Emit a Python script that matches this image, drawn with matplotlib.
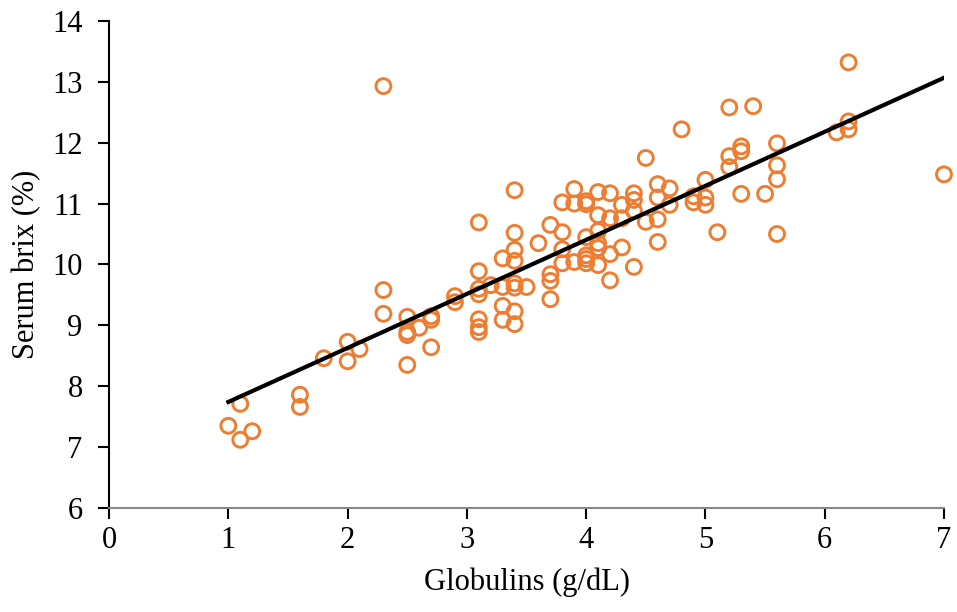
import numpy as np
import matplotlib.pyplot as plt

# globulins (g/dL) and serum brix (%)
globulins = [1.0, 1.1, 1.1, 1.2, 1.6, 1.6, 1.8, 2.0, 2.0, 2.1,
             2.3, 2.3, 2.3, 2.5, 2.5, 2.5, 2.5, 2.6, 2.7, 2.7,
             2.7, 2.9, 2.9, 3.1, 3.1, 3.1, 3.1, 3.1, 3.1, 3.1,
             3.2, 3.3, 3.3, 3.3, 3.3, 3.4, 3.4, 3.4, 3.4, 3.4,
             3.4, 3.4, 3.4, 3.5, 3.6, 3.7, 3.7, 3.7, 3.7, 3.8,
             3.8, 3.8, 3.8, 3.9, 3.9, 3.9, 4.0, 4.0, 4.0, 4.0,
             4.0, 4.0, 4.1, 4.1, 4.1, 4.1, 4.1, 4.1, 4.2, 4.2,
             4.2, 4.2, 4.3, 4.3, 4.3, 4.4, 4.4, 4.4, 4.4, 4.5,
             4.5, 4.6, 4.6, 4.6, 4.6, 4.7, 4.7, 4.8, 4.9, 4.9,
             5.0, 5.0, 5.0, 5.1, 5.2, 5.2, 5.2, 5.3, 5.3, 5.3,
             5.4, 5.5, 5.6, 5.6, 5.6, 5.6, 6.1, 6.2, 6.2, 6.2,
             7.0]
brix = [7.35, 7.71, 7.12, 7.26, 7.86, 7.66, 8.46, 8.73, 8.41, 8.61,
        12.93, 9.58, 9.19, 9.14, 8.89, 8.84, 8.35, 8.96, 9.15, 9.09,
        8.64, 9.48, 9.38, 10.69, 9.89, 9.60, 9.51, 9.10, 8.97, 8.89,
        9.66, 10.10, 9.63, 9.32, 9.09, 11.22, 10.52, 10.24, 10.06, 9.69,
        9.62, 9.23, 9.02, 9.63, 10.35, 10.65, 9.84, 9.73, 9.43, 11.02,
        10.53, 10.25, 10.02, 11.24, 11.00, 10.04, 11.04, 10.99, 10.45, 10.15,
        10.09, 10.02, 11.19, 10.81, 10.55, 10.35, 10.27, 9.99, 11.17, 10.76,
        10.17, 9.74, 10.98, 10.76, 10.28, 11.17, 11.06, 10.88, 9.96, 11.75,
        10.70, 11.32, 11.10, 10.74, 10.37, 11.25, 10.98, 12.22, 11.12, 11.02,
        11.39, 11.10, 10.98, 10.53, 12.58, 11.78, 11.60, 11.94, 11.86, 11.16,
        12.60, 11.16, 11.99, 11.63, 11.40, 10.50, 12.17, 13.32, 12.35, 12.22,
        11.48]

plt.rcParams['font.family'] = ['Liberation Serif', 'DejaVu Serif']

fig, ax = plt.subplots(figsize=(9.57, 6.12), dpi=100)
fig.subplots_adjust(left=0.114, right=0.9864, bottom=0.17, top=0.9657)

ax.scatter(globulins, brix, s=115, facecolors='none', edgecolors='#ED7D31',
           linewidths=2.1, zorder=2, clip_on=False)

# linear trendline
slope, intercept = np.polyfit(globulins, brix, 1)
xs = np.array([min(globulins), max(globulins)])
ax.plot(xs, slope * xs + intercept, color='black', lw=3, zorder=3)

ax.set_xlim(0, 7)
ax.set_ylim(6, 14)
ax.set_xticks(range(0, 8))
ax.set_yticks(range(6, 15))
ax.spines['top'].set_visible(False)
ax.spines['right'].set_visible(False)
ax.spines['left'].set_linewidth(1.5)
ax.spines['bottom'].set_color('#888888')
ax.spines['bottom'].set_linewidth(1.5)
ax.tick_params(labelsize=22, length=8, width=1.5)
ax.tick_params(axis='y', pad=11)
ax.tick_params(axis='x', pad=5)
ax.set_xlabel('Globulins (g/dL)', fontsize=22, labelpad=9)
ax.set_ylabel('Serum brix (%)', fontsize=22, labelpad=8)

plt.savefig('out.png', dpi=100)
